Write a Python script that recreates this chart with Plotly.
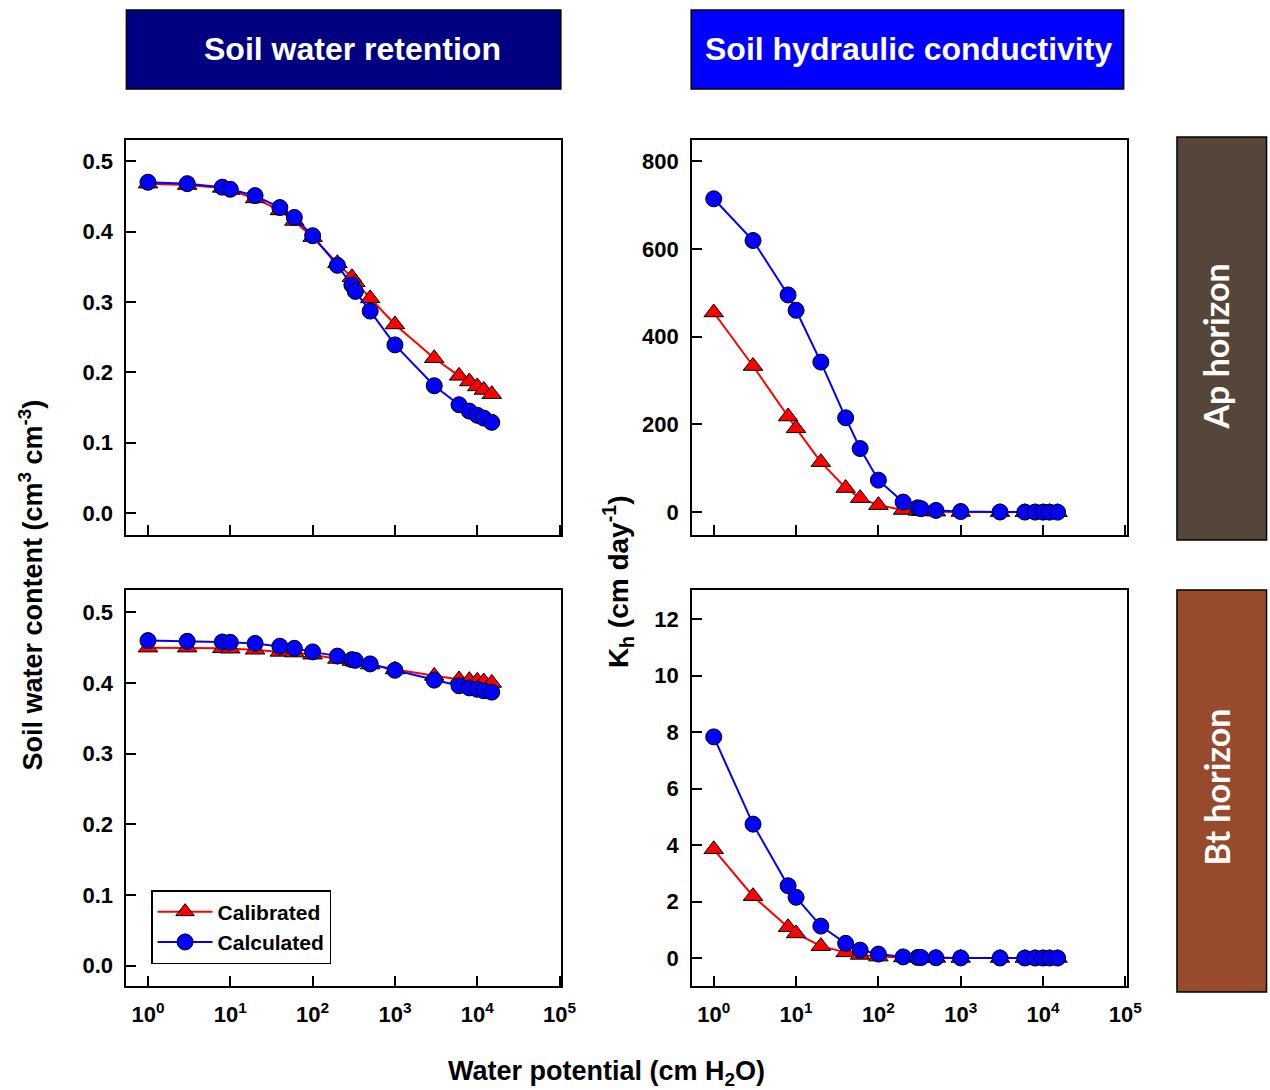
import plotly.graph_objects as go

W, H = 1270, 1090

# ---------------- data ----------------
potential = [1, 3, 8, 10, 20, 40, 60, 100, 200, 300, 330, 500, 1000, 3000, 6000, 8000, 10000, 12000, 15000]

ap_theta_calibrated = [0.468, 0.466, 0.462, 0.459, 0.447, 0.430, 0.415, 0.392, 0.355, 0.335, 0.328, 0.305,
                       0.268, 0.220, 0.195, 0.187, 0.180, 0.175, 0.169]
ap_theta_calculated = [0.470, 0.468, 0.463, 0.460, 0.451, 0.434, 0.420, 0.394, 0.352, 0.324, 0.315, 0.287,
                       0.239, 0.181, 0.154, 0.145, 0.139, 0.135, 0.129]

bt_theta_calibrated = [0.450, 0.450, 0.449, 0.4485, 0.447, 0.444, 0.443, 0.440, 0.434, 0.431, 0.430, 0.426,
                       0.419, 0.410, 0.405, 0.404, 0.403, 0.402, 0.400]
bt_theta_calculated = [0.460, 0.459, 0.458, 0.4575, 0.456, 0.452, 0.449, 0.444, 0.438, 0.433, 0.432, 0.427,
                       0.418, 0.404, 0.396, 0.393, 0.391, 0.389, 0.387]

ap_k_calibrated = [455, 333, 218, 191, 114, 55, 32, 16, 5, 3, 2.5, 1.2, 0.4, 0.08, 0.04, 0.03, 0.02, 0.02, 0.01]
ap_k_calculated = [714, 619, 495, 460, 342, 215, 145, 73, 23, 10, 8, 4, 1.5, 0.4, 0.2, 0.15, 0.1, 0.08, 0.06]

bt_k_calibrated = [3.85, 2.19, 1.09, 0.87, 0.42, 0.20, 0.11, 0.05, 0.02, 0.01, 0.01, 0.005, 0.002, 0.001,
                   0.0005, 0.0004, 0.0003, 0.0002, 0.0002]
bt_k_calculated = [7.83, 4.74, 2.56, 2.15, 1.13, 0.52, 0.28, 0.14, 0.04, 0.02, 0.018, 0.01, 0.005, 0.002,
                   0.001, 0.0008, 0.0006, 0.0005, 0.0004]

x_tickvals = [1, 10, 100, 1000, 10000, 100000]
x_ticktext = ["10<sup>0</sup>", "10<sup>1</sup>", "10<sup>2</sup>", "10<sup>3</sup>", "10<sup>4</sup>", "10<sup>5</sup>"]
theta_ticks = [0.0, 0.1, 0.2, 0.3, 0.4, 0.5]
ap_k_ticks = [0, 200, 400, 600, 800]
bt_k_ticks = [0, 2, 4, 6, 8, 10, 12]

series_names = ["Calibrated", "Calculated"]

# ---------------- helpers ----------------
def px(x):
    return x / W

def py(y):
    return 1 - y / H

FONT = "Liberation Sans, Arial, sans-serif"
RED = "#FF0000"
BLUE = "#0000FF"

fig = go.Figure()

panels = [
    ("x", "y", ap_theta_calibrated, ap_theta_calculated, False),
    ("x2", "y2", ap_k_calibrated, ap_k_calculated, False),
    ("x3", "y3", bt_theta_calibrated, bt_theta_calculated, True),
    ("x4", "y4", bt_k_calibrated, bt_k_calculated, False),
]

for xa, ya, cal, calc, sl in panels:
    fig.add_trace(go.Scatter(
        x=potential, y=cal, mode="lines+markers", name=series_names[0],
        xaxis=xa, yaxis=ya, showlegend=sl, cliponaxis=False,
        line=dict(color=RED, width=2),
        marker=dict(symbol="triangle-up", size=17, color=RED, line=dict(color="black", width=1)),
    ))
    fig.add_trace(go.Scatter(
        x=potential, y=calc, mode="lines+markers", name=series_names[1],
        xaxis=xa, yaxis=ya, showlegend=sl, cliponaxis=False,
        line=dict(color=BLUE, width=2),
        marker=dict(symbol="circle", size=16, color=BLUE, line=dict(color="black", width=1)),
    ))

xdom_left = [px(128), px(568)]
xdom_right = [px(701), px(1141)]
ydom_top = [py(535), py(140)]
ydom_bot = [py(986), py(590)]

tickfont = dict(family=FONT, size=22, color="black", weight="bold")

def xaxis(domain, anchor, show_labels):
    return dict(
        domain=domain, anchor=anchor, type="log", range=[-0.262, 5.015],
        tickvals=x_tickvals, ticktext=x_ticktext, showticklabels=show_labels,
        ticks="inside", ticklen=10, tickwidth=2, tickcolor="black",
        showline=True, linecolor="black", linewidth=2, mirror=True,
        showgrid=False, zeroline=False, tickfont=tickfont, ticklabelstandoff=8,
    )

def yaxis(domain, anchor, rng, ticks, fmt):
    return dict(
        domain=domain, anchor=anchor, range=rng, tickvals=ticks, tickformat=fmt,
        ticks="inside", ticklen=10, tickwidth=2, tickcolor="black",
        showline=True, linecolor="black", linewidth=2, mirror=True,
        showgrid=False, zeroline=False, tickfont=tickfont, ticklabelstandoff=7,
    )

fig.update_layout(
    width=W, height=H, margin=dict(l=0, r=0, t=0, b=0),
    paper_bgcolor="white", plot_bgcolor="white",
    font=dict(family=FONT, color="black"),
    xaxis=xaxis(xdom_left, "y", False),
    yaxis=yaxis(ydom_top, "x", [-0.031, 0.53], theta_ticks, ".1f"),
    xaxis2=xaxis(xdom_right, "y2", False),
    yaxis2=yaxis(ydom_top, "x2", [-52, 848], ap_k_ticks, "d"),
    xaxis3=xaxis(xdom_left, "y3", True),
    yaxis3=yaxis(ydom_bot, "x3", [-0.029, 0.5316], theta_ticks, ".1f"),
    xaxis4=xaxis(xdom_right, "y4", True),
    yaxis4=yaxis(ydom_bot, "x4", [-0.99, 13.03], bt_k_ticks, "d"),
    legend=dict(
        x=px(153), y=py(890), xanchor="left", yanchor="top",
        bgcolor="white", bordercolor="black", borderwidth=1.5,
        font=dict(family=FONT, size=21, color="black", weight="bold"),
        itemwidth=55, tracegroupgap=0,
    ),
    showlegend=True,
)

shapes = [
    dict(type="rect", xref="paper", yref="paper", x0=px(128), x1=px(568), y0=py(89), y1=py(10),
         fillcolor="#000080", line=dict(color="black", width=1.5), layer="above"),
    dict(type="rect", xref="paper", yref="paper", x0=px(700), x1=px(1138), y0=py(89), y1=py(10),
         fillcolor="#0000FF", line=dict(color="black", width=1.5), layer="above"),
    dict(type="rect", xref="paper", yref="paper", x0=px(1192), x1=1.01, y0=py(540), y1=py(137),
         fillcolor="#56463A", line=dict(color="black", width=1.5), layer="above"),
    dict(type="rect", xref="paper", yref="paper", x0=px(1192), x1=1.01, y0=py(992), y1=py(590),
         fillcolor="#984B2C", line=dict(color="black", width=1.5), layer="above"),
]
fig.update_layout(shapes=shapes)

def ann(text, x, y, size, color="black", angle=0, family=FONT):
    return dict(text=text, x=px(x), y=py(y), xref="paper", yref="paper", xanchor="center",
                yanchor="middle", textangle=angle, showarrow=False,
                font=dict(family=family, size=size, color=color))

annotations = [
    ann("<b>Soil water retention</b>", 357, 49, 32, "white"),
    ann("<b>Soil hydraulic conductivity</b>", 920, 49, 32, "white"),
    ann("<b>Ap horizon</b>", 1232, 346, 34, "white", -90, "Lato, sans-serif"),
    ann("<b>Bt horizon</b>", 1232, 787, 34, "white", -90, "Lato, sans-serif"),
    ann("<b>Soil water content (cm<sup>3</sup> cm<sup>-3</sup>)</b>", 31, 585, 27, angle=-90),
    ann("<b>K<sub>h</sub> (cm day<sup>-1</sup>)</b>", 626, 582, 28, angle=-90),
    ann("<b>Water potential (cm H<sub>2</sub>O)</b>", 614, 1073, 27),
]
fig.update_layout(annotations=annotations)

fig.write_html("out.html")
